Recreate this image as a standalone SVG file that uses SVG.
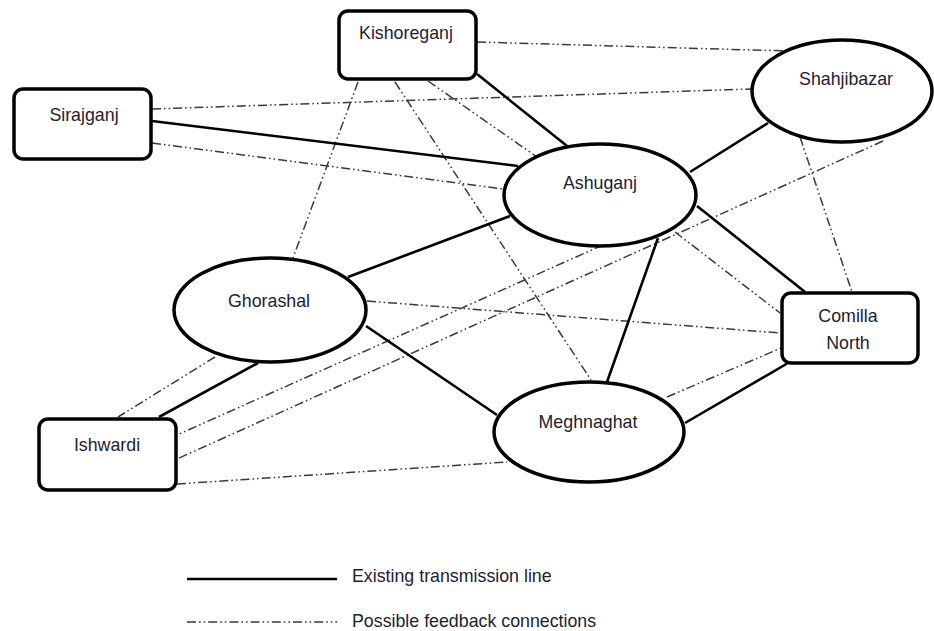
<svg xmlns="http://www.w3.org/2000/svg" width="934" height="631" viewBox="0 0 934 631">
<style>
.node{fill:#fff;stroke:#000;stroke-width:3.5}
.lbl{font-family:"Liberation Sans",Arial,sans-serif;font-size:17.8px;fill:#1e2230;text-anchor:middle}
.leg{font-family:"Liberation Sans",Arial,sans-serif;font-size:17.8px;fill:#1e2230}
.solid{stroke:#000;stroke-width:2.6;fill:none}
.dash{stroke:#3a3a3a;stroke-width:1.5;fill:none;stroke-dasharray:9 3 1.6 3 1.6 3}
</style>
<rect width="934" height="631" fill="#fff"/>
<g id="connectors">
<line class="dash" x1="477" y1="42" x2="787" y2="51"/>
<line class="dash" x1="152" y1="109" x2="751" y2="89"/>
<line class="dash" x1="152" y1="143" x2="503" y2="189"/>
<line class="dash" x1="358" y1="82" x2="293" y2="258"/>
<line class="dash" x1="395" y1="82" x2="591" y2="380"/>
<line class="dash" x1="428" y1="81" x2="537" y2="157"/>
<line class="dash" x1="800" y1="137" x2="852" y2="292"/>
<line class="dash" x1="883" y1="141" x2="177" y2="459"/>
<line class="dash" x1="603" y1="245" x2="177" y2="435"/>
<line class="dash" x1="215" y1="357" x2="118" y2="417"/>
<line class="dash" x1="367" y1="301" x2="780" y2="333"/>
<line class="dash" x1="675" y1="232" x2="780" y2="313"/>
<line class="dash" x1="667" y1="397" x2="781" y2="348"/>
<line class="dash" x1="177" y1="484" x2="507" y2="462"/>
<line class="solid" x1="477" y1="74" x2="567" y2="146"/>
<line class="solid" x1="152" y1="121" x2="518" y2="166"/>
<line class="solid" x1="690" y1="172" x2="768" y2="123"/>
<line class="solid" x1="348" y1="277" x2="510" y2="216"/>
<line class="solid" x1="697" y1="206" x2="805" y2="292"/>
<line class="solid" x1="658" y1="238" x2="607" y2="382"/>
<line class="solid" x1="366" y1="326" x2="497" y2="415"/>
<line class="solid" x1="258" y1="363" x2="159" y2="417"/>
<line class="solid" x1="685" y1="423" x2="788" y2="363"/>
</g>
<g id="kishoreganj"><rect class="node" x="339" y="11" width="137" height="68" rx="9"/><text class="lbl" x="406" y="39">Kishoreganj</text></g>
<g id="sirajganj"><rect class="node" x="14" y="89" width="137" height="70" rx="9"/><text class="lbl" x="84" y="121">Sirajganj</text></g>
<g id="shahjibazar"><ellipse class="node" cx="842" cy="91" rx="90" ry="51"/><text class="lbl" x="846" y="85">Shahjibazar</text></g>
<g id="ashuganj"><ellipse class="node" cx="600" cy="195" rx="96" ry="51"/><text class="lbl" x="600" y="189">Ashuganj</text></g>
<g id="ghorashal"><ellipse class="node" cx="270" cy="310" rx="96" ry="52"/><text class="lbl" x="269" y="307">Ghorashal</text></g>
<g id="ishwardi"><rect class="node" x="39" y="419" width="137" height="71" rx="9"/><text class="lbl" x="107" y="451">Ishwardi</text></g>
<g id="comilla-north"><rect class="node" x="782" y="293" width="136" height="70" rx="9"/><text class="lbl" x="848" y="322">Comilla</text><text class="lbl" x="848" y="349">North</text></g>
<g id="meghnaghat"><ellipse class="node" cx="589" cy="432" rx="95" ry="50"/><text class="lbl" x="588" y="428">Meghnaghat</text></g>
<g id="legend">
<line class="solid" x1="187" y1="579" x2="337" y2="579"/>
<text class="leg" x="352" y="582">Existing transmission line</text>
<line class="dash" x1="187" y1="622" x2="337" y2="622"/>
<text class="leg" x="352" y="627">Possible feedback connections</text>
</g>
</svg>
